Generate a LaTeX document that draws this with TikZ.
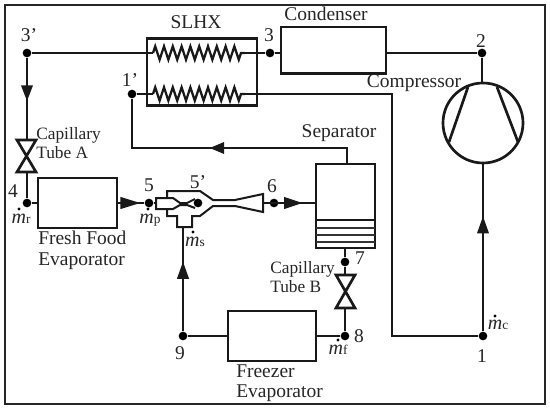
\documentclass[tikz,border=0pt]{standalone}
\usepackage{fontspec}
\setmainfont{Liberation Serif}
\usetikzlibrary{arrows.meta,decorations.markings,decorations.pathmorphing,calc}
\tikzset{
  x=0.75pt,y=-0.75pt,
  pipe/.style={line width=2pt,draw=black!90,line join=miter},
  unit/.style={draw=black!90,line width=2pt,fill=white,inner sep=0pt,minimum width=#1},
  lbl/.style={text=black!85,inner sep=0pt,font=\fontsize{14.6}{16}\selectfont},
  small/.style={text=black!85,inner sep=0pt,align=left,font=\fontsize{13}{14.2}\selectfont},
  flowlbl/.style={text=black!85,inner sep=0pt,font=\fontsize{15}{16}\selectfont},
  pt/.style={circle,fill=black,draw=none,inner sep=0pt,minimum size=6.5pt},
  mdotpt/.style={circle,fill=black,draw=none,inner sep=0pt,minimum size=2.4pt},
  flow/.style 2 args={postaction={decorate},decoration={markings,mark=at position #1 with {\arrow{Triangle[length=#2,width=8.5pt]}}}},
  coil/.style={line width=1.7pt,draw=black!90,decorate,decoration={zigzag,segment length=6.6pt,amplitude=5pt}},
}
\newcommand{\flowtxt}[1]{\textit{m}{\fontsize{10}{10}\selectfont #1}}
\begin{document}
\begin{tikzpicture}
\useasboundingbox (0,0) rectangle (550,410);
\fill[white] (0,0) rectangle (550,410);
\draw[line width=1.2pt,black!85] (5,5) rectangle (545,404);

% units
\node[unit=110*0.75pt,minimum height=50.5pt] (slhx) at (202,72) {};
\node[unit=105*0.75pt,minimum height=35pt] (cond) at (333.5,50.5) {};
\node[unit=79*0.75pt,minimum height=37.5pt] (fresh) at (77.5,203) {};
\node[unit=88*0.75pt,minimum height=37.5pt] (freezer) at (272,336) {};
\node[unit=59*0.75pt,minimum height=63pt] (sep) at (345.5,206) {};
\node[draw=black!90,line width=2pt,circle,inner sep=0pt,minimum size=60pt] (comp) at (483,123) {};

% junction points
\node[pt] (p3p) at (27,53) {};
\node[pt] (p3) at (270,53) {};
\node[pt] (p2) at (482,53) {};
\node[pt] (p1p) at (132,94) {};
\node[pt] (p1) at (483,336) {};
\node[pt] (p4) at (27,203) {};
\node[pt] (p5) at (149,203) {};
\node[pt] (p5p) at (198,203) {};
\node[pt] (p6) at (274,203) {};
\node[pt] (p7) at (345,262) {};
\node[pt] (p8) at (345,336) {};
\node[pt] (p9) at (183,336) {};

% named free ends
\coordinate (ca1) at (153,53); \coordinate (ca2) at (245,53);
\coordinate (cb1) at (153,94); \coordinate (cb2) at (245,94);
\coordinate (vat) at (27,140); \coordinate (vab) at (27,172);
\coordinate (vbt) at (345,275); \coordinate (vbb) at (345,308);
\coordinate (ejin) at (156,203); \coordinate (ejout) at (263,203);
\coordinate (ejs) at (183,227);
\coordinate (c1) at (132,148); \coordinate (c2) at (347,148);
\coordinate (c3) at (392,94); \coordinate (c4) at (392,336);

% connectors
\draw[pipe] (p3p) -- (ca1);
\draw[coil] (ca1) -- (ca2);
\draw[pipe] (ca2) -- (p3);
\draw[pipe] (p1p) -- (cb1);
\draw[coil] (cb1) -- (cb2);
\draw[pipe] (cb2) -- (c3) -- (c4) -- (p1);
\draw[pipe] (p3) -- (p3 -| cond.west);
\draw[pipe] (cond.east |- p2) -- (p2);
\draw[pipe] (p2) -- (p2 |- comp.north);
\draw[pipe,flow={0.69}{13pt}] (p1) -- (comp.south);
\draw[pipe,flow={0.53}{12pt}] (p3p) -- (vat);
\draw[pipe] (vab) -- (p4) -- (p4 -| fresh.west);
\draw[pipe,flow={0.85}{15pt}] (fresh.east) -- (p5);
\draw[pipe] (p5) -- (ejin);
\draw[pipe,flow={0.77}{14pt}] (ejout) -- (sep.west |- ejout);
\draw[pipe,flow={0.545}{11pt}] (sep.north -| c2) -- (c2) -- (c1) -- (p1p);
\draw[pipe] (sep.south -| p7) -- (p7) -- (vbt);
\draw[pipe] (vbb) -- (p8) -- (p8 -| freezer.east);
\draw[pipe] (freezer.west) -- (p9);
\draw[pipe,flow={0.67}{13pt}] (p9) -- (ejs);

% compressor vanes
\draw[pipe] (468,87) -- (449,142);
\draw[pipe] (497,87) -- (518,142);

% valves
\draw[pipe,fill=white] (17,140) -- (36,140) -- (17,172) -- (36,172) -- cycle;
\draw[pipe,fill=white] (336,275) -- (355,275) -- (336,308) -- (355,308) -- cycle;

% ejector
\draw[pipe,line width=1.5pt,fill=white] (167,198) -- (167,191) -- (200,191) -- (213,200) -- (235,200) -- (263,194) -- (263,212) -- (235,206) -- (213,206) -- (200,216) -- (192,216) -- (192,227) -- (177,227) -- (177,216) -- (167,216) -- (167,209);
\draw[pipe,line width=1.5pt] (195,199) -- (187,203) -- (180,203) -- (173,198) -- (156,198) -- (156,209) -- (173,209) -- (180,205) -- (187,205) -- (195,208);
\node[pt] at (p5p) {};

% separator layers
\draw[pipe] (316,220) -- (375,220);
\foreach \yy in {228,235,242} \draw[line width=1.4pt,black!80] (316,\yy) -- (375,\yy);

% labels
\node[lbl] (tslhx) at (196,22) {SLHX};
\node[lbl] (t3p) at (29,35) {3'};
\node[lbl] (t1p) at (130,80) {1'};
\node[lbl] (t3) at (269,35) {3};
\node[lbl] (tcond) at (326,14) {Condenser};
\node[lbl] (t2) at (481,41) {2};
\node[lbl] (tcomp) at (414,83) {Compressor};
\node[lbl] (tsep) at (339,133) {Separator};
\node[lbl] (t6) at (272,186) {6};
\node[lbl] (t5) at (149,185) {5};
\node[lbl] (t5p) at (198,182) {5'};
\node[lbl] (t4) at (13,191) {4};
\node[lbl] (t7) at (360,258) {7};
\node[lbl] (t8) at (359,336) {8};
\node[lbl] (t9) at (180,353) {9};
\node[lbl] (t1) at (482,356) {1};
\node[small,anchor=west] (tca) at (36,143.5) {Capillary\\Tube A};
\node[small,anchor=west] (tcb) at (270,277.5) {Capillary\\Tube B};
\node[lbl,anchor=west] (tff1) at (38,238) {Fresh Food};
\node[lbl,anchor=west] (tff2) at (38,261) {Evaporator};
\node[lbl,anchor=west] (tfz1) at (236,371) {Freezer};
\node[lbl,anchor=west] (tfz2) at (236,393) {Evaporator};
\node[flowlbl] (mr) at (21,219) {\flowtxt{r}};
\node[flowlbl] (mp) at (150,220) {\flowtxt{p}};
\node[flowlbl] (ms) at (195,242) {\flowtxt{s}};
\node[flowlbl] (mf) at (338,350) {\flowtxt{f}};
\node[flowlbl] (mc) at (498,325) {\flowtxt{c}};
\node[mdotpt] (dr) at (19,209) {};
\node[mdotpt] (dp) at (148,209) {};
\node[mdotpt] (ds) at (193,232) {};
\node[mdotpt] (df) at (338,340) {};
\node[mdotpt] (dc) at (495,316) {};
\end{tikzpicture}
\end{document}
